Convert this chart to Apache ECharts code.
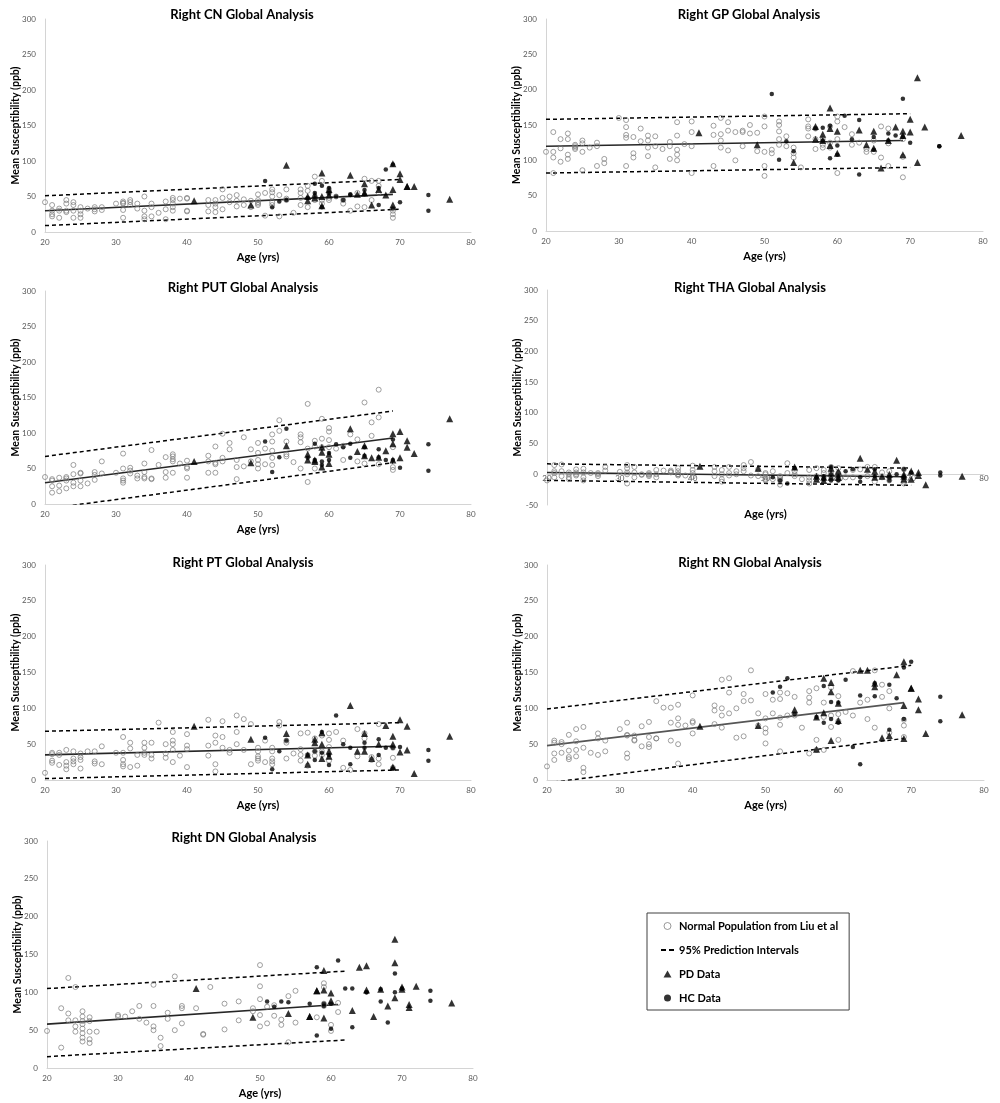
<!DOCTYPE html>
<html><head><meta charset="utf-8">
<script src="https://cdn.jsdelivr.net/npm/echarts@6/dist/echarts.min.js"></script>
<style>html,body{margin:0;padding:0;background:#fff}#c{width:1000px;height:1103px}</style>
</head><body><div id="c"></div>
<script>
// ---------------- DATA ----------------
const titles = ['Right CN Global Analysis','Right GP Global Analysis','Right PUT Global Analysis','Right THA Global Analysis','Right PT Global Analysis','Right RN Global Analysis','Right DN Global Analysis'];
const xTicks = [20,30,40,50,60,70,80];

// ages of the normal population (shared by CN, GP, PUT, THA, PT, RN)
const normAges = [
 20, 21,21,21,21, 22,22,22, 23,23,23,23, 24,24,24,24, 25,25,25,25,
 26, 27,27,27, 28,28, 30, 31,31,31,31,31,
 32,32,32, 33,33, 34,34,34,34, 35,35,35, 36, 37,37,37,
 38,38,38,38,38, 39, 40,40,40,40, 43,43,43, 44,44,44,44,
 45,45,45, 46,46, 47,47,47, 48,48, 49,49, 50,50,50,50,50,
 51,51, 52,52,52,52,52, 53,53, 54,54,54, 55, 56,56,56,56,
 57,57,57, 58,58,58, 59,59,59, 60,60,60,60, 61, 62,62,
 63, 64,64, 65,65, 66,66, 67,67,67, 69,69,69];
const cnNorm = [
 42, 38,30,25,22, 33,30,20, 45,40,30,28, 42,38,30,20, 35,30,25,20,
 33, 35,32,29, 35,31, 40, 43,41,40,31,20,
 45,42,38, 40,33, 50,30,22,18, 40,35,22, 27, 43,32,18,
 48,45,40,35,30, 47, 48,47,30,29, 45,38,29, 45,40,35,28,
 60,48,32, 50,42, 52,44,36, 46,38, 44,35, 53,45,42,40,38,
 55,23, 60,56,50,42,38, 52,22, 60,47,45, 27, 60,55,48,38,
 65,58,35, 78,50,45, 72,45,40, 60,55,48,45, 50, 45,40,
 30, 55,36, 75,35, 72,45, 72,65,55, 30,25,20];
const gpNorm = [
 112, 140,112,104,82, 130,117,98, 138,130,108,102, 122,120,118,116, 128,124,112,86,
 118, 125,120,92, 102,96, 160, 157,147,136,132,92,
 133,110,104, 145,127, 135,128,118,106, 134,120,90, 116, 126,120,102,
 154,135,115,108,100, 123, 155,140,120,82, 149,136,92, 160,137,128,118,
 154,142,114, 140,100, 142,140,120, 150,138, 139,113, 162,148,112,92,78,
 115,110, 155,150,141,130,122, 134,120, 118,110,104, 90, 158,148,145,134,
 145,130,116, 130,122,118, 148,125,118, 162,155,130,82, 147, 137,122,
 125, 116,112, 128,112, 148,104, 145,124,92, 130,105,76];
const putNorm = [
 38, 35,33,25,16, 37,26,18, 38,36,33,22, 55,42,30,25, 44,43,33,25,
 29, 45,41,34, 60,43, 44, 71,50,36,33,30,
 51,47,43, 40,36, 57,45,38,36, 76,36,35, 55, 66,45,37,
 70,67,63,60,44, 57, 61,52,50,37, 68,60,44, 81,58,56,44,
 99,65,60, 86,77, 62,52,35, 94,53, 77,60, 86,72,62,56,50,
 78,56, 98,88,75,65,55, 118,103, 88,70,67, 59, 98,94,87,50,
 141,78,31, 89,81,50, 120,92,80, 107,102,90,80, 78, 82,62,
 98, 91,60, 143,57, 115,96, 161,122,56, 80,52,48];
const thaNorm = [
 -10, 15,5,2,-5, 16,5,-3, 3,0,-5,-8, 8,3,0,-2, 9,3,-5,-10,
 2, 2,0,-3, 12,6, 4, 15,10,3,0,-15,
 12,3,-5, 0,-1, 2,0,-1,-3, 7,0,-5, 6, 6,4,3,
 10,5,0,0,-2, -2, 14,7,2,-4, 12,5,-3, 7,0,-8,-12,
 12,2,-2, 5,0, 15,10,5, 20,-2, 8,-3, 2,0,-5,-8,-10,
 5,-8, -3,-5,-8,-10,-17, 18,2, 5,0,-3, -8, 7,-5,-10,-15,
 10,-3,-8, 7,2,-5, 12,2,-3, 10,2,-3,-8, -5, 7,-5,
 8, 12,-3, 12,-12, 3,-5, 5,-5,-10, 8,-12,-15];
const ptNorm = [
 10, 38,36,27,24, 38,35,21, 42,25,20,15, 40,30,26,22, 37,32,28,16,
 40, 40,26,23, 47,22, 38, 60,38,28,22,19,
 52,44,18, 35,20, 52,45,38,35, 52,35,30, 80, 50,37,31,
 67,55,50,42,25, 34, 64,48,43,18, 84,48,34, 62,52,22,12,
 82,60,45, 42,38, 90,67,50, 85,42, 78,22, 45,40,33,30,27,
 55,25, 45,40,30,26,22, 81,76, 55,52,30, 37, 65,43,35,27,
 66,35,20, 58,40,34, 62,40,35, 65,56,46,27, 67, 55,17,
 14, 71,33, 65,58, 32,28, 78,30,22, 45,31,17];
const rnNorm = [
 19, 55,52,37,28, 53,50,38, 63,41,32,29, 71,54,42,33, 74,45,17,11,
 38, 65,58,35, 55,40, 71, 80,63,62,37,31,
 62,56,55, 75,47, 81,60,50,46, 110,58,58, 101, 101,80,55,
 105,86,77,50,23, 76, 118,82,80,65, 104,97,78, 140,100,90,73,
 142,122,93, 100,59, 120,110,61, 153,111, 93,76, 120,86,72,66,51,
 112,93, 122,113,87,77,40, 121,90, 116,92,90, 73, 124,115,108,37,
 128,56,42, 108,88,42, 129,90,74, 117,92,82,56, 95, 152,90,
 108, 112,85, 153,73, 133,116, 124,100,66, 84,76,60];

// DN normal population (own ages)
const dnNormAges = [
 20, 22,22, 23,23,23, 24,24,24,24, 25,25,25,25,25,25,25,25, 26,26,26,26,26, 27,
 30,30, 31, 32, 33,33, 34, 35,35,35,35, 36,36, 37,37, 38,38, 39,39,39, 41, 42,42, 43,
 45,45, 47,47, 49,49, 50,50,50,50,50, 51,51, 52,52, 53,53, 54,54, 55,55, 58,
 59,59,59,59, 60,60, 61,61];
const dnNorm = [
 49, 79,27, 119,72,63, 107,63,55,48, 75,68,62,58,52,46,40,35, 67,62,48,38,33, 48,
 68,70, 68, 75, 82,65, 60, 110,82,55,50, 40,29, 73,65, 121,50, 82,79,59, 79, 45,44, 107,
 85,51, 88,63, 79,75, 136,108,91,70,55, 81,59, 83,69, 64,57, 95,34, 102,60, 67,
 112,107,85,82, 57,49, 86,74];

// PD subjects
const pdAges = [41,49,54,57,57,58,58,59,59,59,60,60,63,64,65,65,66,67,68,69,69,69,70,70,71,71,72,77];
const cnPD  = [44,38,94,44,50,52,48,83,50,37,60,52,80,53,68,55,38,60,52,96,60,38,82,74,64,64,64,46];
const gpPD  = [139,122,97,148,130,137,128,174,145,121,141,110,143,122,141,117,89,128,147,141,135,108,158,140,217,97,147,135];
const putPD = [60,58,82,62,70,62,60,80,73,52,70,57,106,74,82,68,65,66,75,99,85,62,102,65,89,80,71,120];
const thaPD = [13,10,12,-3,-8,-5,-10,10,2,-5,5,-5,26,8,5,-5,-3,0,23,-3,-8,0,5,-8,3,-2,-17,-3];
const ptPD  = [75,57,65,22,35,57,52,66,50,30,40,33,104,40,65,40,30,50,76,61,50,18,84,39,75,42,9,61];
const rnPD  = [75,76,98,88,43,142,94,136,123,55,107,83,153,153,135,130,59,62,147,165,104,58,128,128,113,98,65,91];
const dnPD  = [105,67,72,68,68,102,102,129,103,66,99,89,76,133,135,103,68,104,82,170,139,93,107,104,84,80,108,86];

// HC subjects
const hcAges = [51,52,53,54,57,58,58,59,59,60,60,61,62,63,63,65,65,67,67,68,69,69,70,74,74];
const cnHC  = [72,35,43,45,48,68,55,65,35,62,55,50,45,52,53,59,53,38,62,88,95,33,42,52,30];
const gpHC  = [194,101,127,113,145,146,128,149,103,121,108,163,130,157,80,133,115,138,128,135,187,133,125,120,120];
const putHC = [88,45,66,106,65,85,62,60,55,62,72,84,80,85,65,80,68,77,66,62,91,62,51,84,47];
const thaHC = [-5,-10,-15,10,-5,-3,-8,12,-10,-3,-10,5,8,-5,-12,-3,8,-10,-5,0,8,-5,3,3,-2];
const ptHC  = [59,15,40,55,35,28,40,67,38,35,21,90,50,22,45,52,45,57,35,45,45,16,46,42,27];
const rnHC  = [122,130,142,92,88,131,80,109,85,108,80,140,46,118,22,117,135,133,70,114,157,85,165,116,82];
const dnHC  = [88,81,88,87,85,133,43,85,82,52,85,142,105,105,54,100,100,104,88,60,125,100,105,102,89];

// regression line and 95% prediction interval end points [age, ppb]
const cnFit  = [[20,30],[69,53]],   cnUp  = [[20,51],[70,74]],   cnLo  = [[20,9],[70,32]];
const gpFit  = [[20,120],[69,128]], gpUp  = [[20,158],[70,166]], gpLo  = [[20,82],[70,90]];
const putFit = [[20,30],[69,93]],   putUp = [[20,67],[69,131]],  putLo = [[20,-7],[69,58]];
const thaFit = [[20,3],[69,-4]],    thaUp = [[20,17],[70,10]],   thaLo = [[20,-10],[70,-18]];
const ptFit  = [[20,35],[69,47]],   ptUp  = [[20,68],[70,80]],   ptLo  = [[20,2],[70,14]];
const rnFit  = [[20,48],[69,108]],  rnUp  = [[20,99],[70,160]],  rnLo  = [[20,-4],[69,58]];
const dnFit  = [[20,58],[61,84]],   dnUp  = [[20,105],[62,128]], dnLo  = [[20,15],[62,37]];

const yMins = [0,0,0,-50,0,0,0];

// ---------------- LAYOUT ----------------
const FONT = 'Lato';
const grids = [
 {left:45, top:19, width:426, height:213},
 {left:546,top:19, width:437, height:212},
 {left:45, top:291,width:426, height:213},
 {left:547,top:290,width:437, height:215},
 {left:45, top:565,width:426, height:215},
 {left:547,top:565,width:437, height:215},
 {left:47, top:841,width:426, height:227}
];
const titlePos = [[242,8],[749,8],[243,281],[750,281],[243,556],[750,556],[244,831]];

const zip = (xs, ys) => xs.map((x, i) => [x, ys[i]]);
const panels = [
 {nx:normAges, ny:cnNorm,  pd:cnPD,  hc:cnHC,  fit:cnFit,  up:cnUp,  lo:cnLo},
 {nx:normAges, ny:gpNorm,  pd:gpPD,  hc:gpHC,  fit:gpFit,  up:gpUp,  lo:gpLo},
 {nx:normAges, ny:putNorm, pd:putPD, hc:putHC, fit:putFit, up:putUp, lo:putLo},
 {nx:normAges, ny:thaNorm, pd:thaPD, hc:thaHC, fit:thaFit, up:thaUp, lo:thaLo},
 {nx:normAges, ny:ptNorm,  pd:ptPD,  hc:ptHC,  fit:ptFit,  up:ptUp,  lo:ptLo},
 {nx:normAges, ny:rnNorm,  pd:rnPD,  hc:rnHC,  fit:rnFit,  up:rnUp,  lo:rnLo},
 {nx:dnNormAges, ny:dnNorm, pd:dnPD, hc:dnHC,  fit:dnFit,  up:dnUp,  lo:dnLo}
];

const NORM = 'Normal Population from Liu et al', PI = '95% Prediction Intervals', PDN = 'PD Data', HCN = 'HC Data';
const axisLineColor = '#d4d4d4', labelColor = '#595959';

const option = {
  animation: false,
  backgroundColor: '#fff',
  textStyle: {fontFamily: FONT},
  title: titles.map((t, i) => ({
    text: t, left: titlePos[i][0], top: titlePos[i][1], textAlign: 'center', padding: 0,
    textStyle: {fontFamily: FONT, fontWeight: 'bold', fontSize: 13, color: '#000'}
  })),
  grid: grids.map(g => Object.assign({outerBoundsMode: 'none', containLabel: false}, g)),
  xAxis: grids.map((g, i) => ({
    type: 'value', gridIndex: i, min: 20, max: 80, interval: 10,
    name: 'Age (yrs)', nameLocation: 'middle', nameGap: i === 3 ? 4 : 20, nameMoveOverlap: false,
    nameTextStyle: {fontFamily: FONT, fontWeight: 'bold', fontSize: 11, color: '#000'},
    axisLine: {show: true, onZero: true, lineStyle: {color: axisLineColor, width: 1}},
    axisTick: {show: false}, splitLine: {show: false},
    axisLabel: {fontSize: 8, color: labelColor, margin: i === 3 ? -31 : 6, fontFamily: FONT,
      formatter: v => xTicks.includes(v) ? String(v) : ''}
  })),
  yAxis: grids.map((g, i) => ({
    type: 'value', gridIndex: i, min: yMins[i], max: 300, interval: 50,
    name: 'Mean Susceptibility (ppb)', nameLocation: 'middle', nameGap: 24, nameMoveOverlap: false,
    nameTextStyle: {fontFamily: FONT, fontWeight: 'bold', fontSize: 10.5, color: '#000'},
    axisLine: {show: true, onZero: false, lineStyle: {color: axisLineColor, width: 1}},
    axisTick: {show: false}, splitLine: {show: false},
    axisLabel: {fontSize: 8, color: labelColor, margin: 9, fontFamily: FONT}
  })),
  legend: {
    orient: 'vertical', left: 647, top: 913,
    padding: [6, 11, 5, 14], itemGap: 10, itemWidth: 13, itemHeight: 7,
    borderColor: '#404040', borderWidth: 1, backgroundColor: '#fff',
    selectedMode: false, symbolKeepAspect: true,
    textStyle: {fontFamily: FONT, fontWeight: 'bold', fontSize: 11, color: '#000', lineHeight: 14},
    data: [
      {name: NORM, icon: 'circle', itemStyle: {color: '#fff', borderColor: '#808080', borderWidth: 1}},
      {name: PI, icon: 'path://M0,0H5V2H0ZM8,0H13V2H8Z', itemStyle: {color: '#000', borderWidth: 0}},
      {name: PDN, icon: 'path://M4,0L8,7H0Z', itemStyle: {color: '#000', borderWidth: 0}},
      {name: HCN, icon: 'circle', itemStyle: {color: '#000'}}
    ]
  },
  series: []
};

panels.forEach((p, i) => {
  const base = {xAxisIndex: i, yAxisIndex: i, silent: true};
  option.series.push(Object.assign({type: 'line', name: PI, data: p.up, symbol: 'none', z: 2, color: '#000',
    lineStyle: {color: '#000', width: 1.5, type: [4, 3]}}, base));
  option.series.push(Object.assign({type: 'line', name: PI, data: p.lo, symbol: 'none', z: 2, color: '#000',
    lineStyle: {color: '#000', width: 1.5, type: [4, 3]}}, base));
  option.series.push(Object.assign({type: 'line', name: 'Linear fit', data: p.fit, symbol: 'none', z: 2,
    lineStyle: {color: i === 5 ? '#555' : '#262626', width: 1.6}}, base));
  option.series.push(Object.assign({type: 'scatter', name: NORM, data: zip(p.nx, p.ny), symbol: 'circle', symbolSize: 5, z: 3,
    itemStyle: {color: 'rgba(255,255,255,0)', borderColor: '#7a7a7a', borderWidth: 0.9}}, base));
  option.series.push(Object.assign({type: 'scatter', name: PDN, data: zip(pdAges, p.pd), symbol: 'triangle', symbolSize: 7, z: 4,
    itemStyle: {color: '#000'}}, base));
  option.series.push(Object.assign({type: 'scatter', name: HCN, data: zip(hcAges, p.hc), symbol: 'circle', symbolSize: 4.5, z: 4,
    itemStyle: {color: '#000'}}, base));
});

const chart = echarts.init(document.getElementById('c'));
chart.setOption(option);
</script>
</body></html>
